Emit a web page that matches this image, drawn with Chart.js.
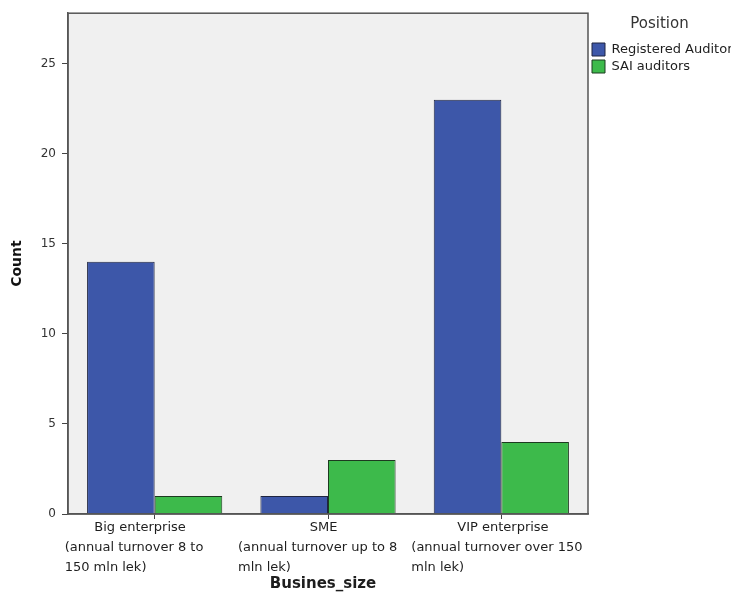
<!doctype html>
<html>
<head>
  <meta charset="utf-8" />
  <title>Busines_size by Position</title>
  <style>
    body{margin:0;background:#fff}
    .wrap{width:731px;height:594px;position:relative}
  </style>
</head>
<body>
  <div class="wrap"><canvas id="chart"></canvas></div>

  <script src="https://cdn.jsdelivr.net/npm/chart.js@4.4.1/dist/chart.umd.min.js"></script>
  <script>
    // data
    const categories = ['Big enterprise', 'SME', 'VIP enterprise'];
    const categoryNotes = [
      ['(annual turnover 8 to', '150 mln lek)'],
      ['(annual turnover up to 8', 'mln lek)'],
      ['(annual turnover over 150', 'mln lek)']
    ];
    const registeredAuditors = [14, 1, 23];
    const saiAuditors = [1, 3, 4];
    const yTicks = [0, 5, 10, 15, 20, 25];

    const FONT = '"DejaVu Sans", "Liberation Sans", Arial, sans-serif';

    // grey plot background + frame round the chart area
    const frame = {
      id: 'frame',
      beforeDraw(chart){
        const {ctx, chartArea: a} = chart;
        ctx.save();
        ctx.fillStyle = '#f0f0f0';
        ctx.fillRect(a.left, a.top, a.right - a.left, a.bottom - a.top);
        ctx.restore();
      },
      afterDraw(chart){
        const {ctx, chartArea: a} = chart;
        ctx.save();
        ctx.strokeStyle = '#555';
        ctx.lineWidth = 1.5;
        ctx.strokeRect(a.left, a.top, a.right - a.left, a.bottom - a.top);
        ctx.restore();
      }
    };

    // SPSS style category labels: first line centred, the rest left aligned
    const xLabels = {
      id: 'xLabels',
      afterDraw(chart){
        const {ctx, chartArea: a} = chart;
        const x = chart.scales.x;
        ctx.save();
        ctx.fillStyle = '#1e1e1e';
        ctx.font = '13px ' + FONT;
        ctx.textBaseline = 'middle';
        categories.forEach((name, i) => {
          const cx = x.getPixelForValue(i);
          const notes = categoryNotes[i];
          const maxW = Math.max(...notes.map(t => ctx.measureText(t).width));
          const left = cx - 90;
          ctx.textAlign = 'center';
          ctx.fillText(name, left + maxW / 2 + 6, a.bottom + 14);
          ctx.textAlign = 'left';
          notes.forEach((t, j) => ctx.fillText(t, left, a.bottom + 34 + j * 20));
        });
        ctx.font = 'bold 15px ' + FONT;
        ctx.textAlign = 'center';
        ctx.fillText('Busines_size', (a.left + a.right) / 2 - 5, a.bottom + 70);
        ctx.restore();
      }
    };

    new Chart(document.getElementById('chart'), {
      type: 'bar',
      data: {
        labels: categories,
        datasets: [
          { label: 'Registered Auditors', data: registeredAuditors, backgroundColor: '#3d57a9', borderColor: '#1f2540', borderWidth: 1 },
          { label: 'SAI auditors', data: saiAuditors, backgroundColor: '#3dba4b', borderColor: '#1d3a20', borderWidth: 1 }
        ]
      },
      options: {
        responsive: true,
        maintainAspectRatio: false,
        animation: false,
        layout: { padding: { top: 10, right: 0, bottom: 0, left: 0 } },
        datasets: { bar: { barPercentage: 1, categoryPercentage: 0.78 } },
        plugins: {
          tooltip: { enabled: false },
          legend: {
            position: 'right',
            align: 'start',
            maxWidth: 143,
            title: {
              display: true,
              text: 'Position',
              color: '#333',
              font: { family: FONT, size: 15 },
              padding: { top: 7, bottom: 4 }
            },
            labels: {
              boxWidth: 13,
              boxHeight: 13,
              padding: 4,
              color: '#1e1e1e',
              font: { family: FONT, size: 13 }
            }
          }
        },
        scales: {
          x: {
            ticks: { display: false },
            grid: { display: true, drawOnChartArea: false, offset: false, tickLength: 5, color: '#444', tickColor: '#444' },
            border: { display: true, color: '#555', width: 1.5 },
            afterFit(s){ s.height = 80; }
          },
          y: {
            min: 0,
            max: 27.8,
            afterBuildTicks(s){ s.ticks = yTicks.map(v => ({ value: v })); },
            ticks: { color: '#333', padding: 6, font: { family: FONT, size: 12 } },
            grid: { display: true, drawOnChartArea: false, tickLength: 6, tickColor: '#444' },
            border: { display: true, color: '#555', width: 1.5 },
            title: {
              display: true,
              text: 'Count',
              color: '#111',
              font: { family: FONT, size: 14, weight: 'bold' },
              padding: { top: 9, bottom: 0 }
            },
            afterFit(s){ s.width = 68; }
          }
        }
      },
      plugins: [frame, xLabels]
    });
  </script>
</body>
</html>
